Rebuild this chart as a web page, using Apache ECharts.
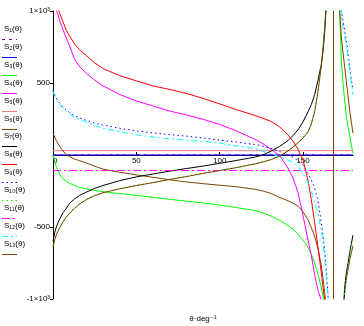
<!DOCTYPE html>
<html><head><meta charset="utf-8">
<script src="https://cdn.jsdelivr.net/npm/echarts@6/dist/echarts.min.js"></script>
<style>html,body{margin:0;padding:0;background:#fff}#c{width:364px;height:326px}</style>
</head><body><div id="c"></div>
<script>
// shared theta grid (degrees); '-' marks the break at the pole
const theta = [0,1,2,3,4,6,8,10,13,16,20,25,30,40,50,60,70,80,90,100,110,121,126,131,136,141,144,147,150,153,155,157,159,161,162,163,164,165,166,167,168,171,172,173,174,175,176,177,178,179,180];
const thetaFlat = [0, 180];

const S1 = [0, 0];
const S2 = [0, 0];
const S3 = [0,-45,-80,-110,-135,-165,-182,-197,-212,-225,-235,-246,-255,-268,-280,-294,-308,-320,-333,-348,-365,-385,-402,-425,-455,-490,-515,-550,-590,-640,-690,-750,-830,-920,-980,-1050,-1150,-1300,-1500,-2000,'-',1500,1000,660,498,380,266,195,135,70,10];
const S4 = [1080,1045,1005,975,930,870,812,755,665,612,567,520,480,420,375,340,305,278,248,212,168,110,78,38,-5,-90,-160,-260,-420,-590,-700,-830,-940,-1010,-1080,-1200,-1400,-1700,-2000,-2500,'-','-','-','-','-','-','-','-','-','-','-'];
const S5 = [30, 30];
const S6 = [151,125,100,80,60,28,2,-12,-28,-40,-55,-78,-98,-120,-138,-155,-172,-187,-199,-210,-220,-238,-250,-268,-295,-318,-335,-355,-395,-450,-505,-565,-650,-770,-860,-950,-1080,-1250,-1500,-2000,'-',-2500,-2000,-1500,-1150,-960,-860,-799,-730,-680,-632];
const S7 = [-600,-540,-500,-470,-445,-400,-370,-335,-305,-280,-258,-232,-212,-178,-152,-132,-112,-94,-77,-58,-38,-15,0,28,60,100,135,175,230,300,350,420,520,630,720,850,1050,1300,1600,2000,'-',-2500,-2000,-1500,-1120,-920,-820,-752,-680,-615,-556];
const S8 = [1200,1120,1060,1020,985,925,865,825,770,730,690,640,600,551,515,480,455,428,393,355,315,275,255,232,195,140,95,40,-35,-175,-310,-470,-640,-820,-920,-1000,-1100,-1250,-1500,-2000,'-','-','-','-','-','-','-','-','-','-','-'];
const S9 = [451,420,395,375,360,335,312,295,272,257,240,222,208,185,168,153,142,131,118,103,90,73,62,45,25,0,-15,-40,-70,-130,-175,-230,-320,-470,-560,-660,-800,-980,-1200,-1600,'-',1600,1200,1000,930,865,799,705,613,520,450];
const S10 = [-630,-585,-550,-525,-500,-462,-428,-400,-366,-337,-307,-280,-260,-233,-210,-190,-168,-148,-126,-106,-86,-60,-46,-30,-6,30,57,88,122,165,222,310,455,640,760,900,1080,1300,1650,2150,'-',-2500,-2000,-1500,-1130,-940,-840,-775,-705,-648,-594];
const S11 = [-108, -108];
const S12 = [440,410,385,365,350,325,303,285,262,245,228,206,185,160,140,125,113,102,94,82,64,45,25,8,-12,-35,-50,-80,-130,-190,-250,-330,-410,-520,-610,-710,-850,-980,-1200,-1600,'-',1600,1150,960,890,830,760,670,590,500,420];
const S13 = [-640,-590,-555,-530,-505,-465,-430,-405,-370,-340,-310,-282,-262,-235,-212,-192,-170,-150,-128,-108,-88,-62,-48,-32,-8,28,55,85,118,160,215,300,440,620,740,880,1060,1280,1600,2100,'-',1600,1000,820,710,613,510,410,312,230,151];

const seriesNames = ['S₁(θ)','S₂(θ)','S₃(θ)','S₄(θ)','S₅(θ)','S₆(θ)','S₇(θ)','S₈(θ)','S₉(θ)','S₁₀(θ)','S₁₁(θ)','S₁₂(θ)','S₁₃(θ)'];
const xTickValues = [0, 50, 100, 150];
const yTickValues = [-1000, -500, 500, 1000];
const yTickLabels = ['-1×10³', '-500', '500', '1×10³'];
const xAxisTitle = 'θ·deg⁻¹';
const poleTheta = [168];

const FONT = '"Liberation Sans", "DejaVu Sans", Arial, sans-serif';
const GRID_TOP = 11, GRID_BOTTOM = 27, CHART_H = 326;
// the horizontal axis sits on the y = 0 line, halfway up the plot box
const xAxisOffset = -(CHART_H - GRID_TOP - GRID_BOTTOM) / 2;

const defs = [
  {x: thetaFlat, y: S1, color: '#800080', dash: [3, 4]},
  {x: thetaFlat, y: S2, color: '#0000ff', dash: 'solid'},
  {x: theta, y: S3, color: '#00ff00', dash: 'solid'},
  {x: theta, y: S4, color: '#ff00ff', dash: 'solid'},
  {x: thetaFlat, y: S5, color: '#ff8080', dash: 'solid'},
  {x: theta, y: S6, color: '#804000', dash: 'solid'},
  {x: theta, y: S7, color: '#000000', dash: 'solid'},
  {x: theta, y: S8, color: '#ff0000', dash: 'solid'},
  {x: theta, y: S9, color: '#0000ff', dash: [1.5, 3]},
  {x: theta, y: S10, color: '#00ff00', dash: [1.5, 3]},
  {x: thetaFlat, y: S11, color: '#ff00ff', dash: [8, 3, 2, 3]},
  {x: theta, y: S12, color: '#00ffff', dash: [6, 3, 2, 3]},
  {x: theta, y: S13, color: '#804000', dash: 'solid'}
];

const series = defs.map((d, i) => {
  const s = {
    name: seriesNames[i],
    type: 'line',
    data: d.x.map((t, k) => [t, d.y[k]]),
    showSymbol: false,
    symbol: 'none',
    connectNulls: false,
    clip: true,
    animation: false,
    silent: true,
    lineStyle: {color: d.color, width: 1, type: d.dash}
  };
  if (i === defs.length - 1) {
    s.markLine = {
      silent: true, symbol: 'none', animation: false,
      label: {show: false},
      lineStyle: {color: d.color, width: 1, type: 'solid'},
      data: poleTheta.map(v => ({xAxis: v}))
    };
  }
  return s;
});

const graphic = [];
defs.forEach((d, i) => {
  const yc = Math.round(29 + 17.9 * i);
  graphic.push({
    type: 'text', x: 4, y: yc, silent: true,
    style: {text: seriesNames[i], font: '8px ' + FONT, fill: '#000', verticalAlign: 'middle', align: 'left'}
  });
  const ly = Math.round(yc + 9.5) + 0.5;
  graphic.push({
    type: 'line', silent: true,
    shape: {x1: 2, y1: ly, x2: 17, y2: ly},
    style: {stroke: d.color, lineWidth: 1, lineDash: Array.isArray(d.dash) ? d.dash : null}
  });
});

const chart = echarts.init(document.getElementById('c'), null, {renderer: 'canvas'});
chart.setOption({
  animation: false,
  backgroundColor: '#fff',
  grid: {left: 53, right: 11, top: GRID_TOP, bottom: GRID_BOTTOM, containLabel: false, outerBoundsMode: 'none'},
  xAxis: {
    type: 'value', min: 0, max: 180, interval: 50,
    position: 'bottom', offset: xAxisOffset,
    axisLine: {show: true, onZero: false, lineStyle: {color: '#000', width: 1}},
    axisTick: {show: true, inside: true, length: 3, customValues: [50, 100, 150], lineStyle: {color: '#000'}},
    axisLabel: {show: true, customValues: xTickValues, margin: 2, fontSize: 8, fontFamily: FONT, color: '#000', alignMinLabel: 'left', formatter: v => String(v)},
    splitLine: {show: false},
    name: xAxisTitle, nameLocation: 'middle', nameGap: 160,
    nameTextStyle: {fontSize: 8, fontFamily: FONT, color: '#000'}
  },
  yAxis: {
    type: 'value', min: -1000, max: 1000, interval: 500,
    axisLine: {show: true, onZero: false, lineStyle: {color: '#000', width: 1}},
    axisTick: {show: true, inside: false, length: 3, customValues: yTickValues, lineStyle: {color: '#000'}},
    axisLabel: {show: true, customValues: yTickValues, margin: 3, fontSize: 8, fontFamily: FONT, color: '#000',
      formatter: v => { const k = yTickValues.indexOf(v); return k >= 0 ? yTickLabels[k] : ''; }},
    splitLine: {show: false}
  },
  graphic: graphic,
  series: series
});
</script>
</body></html>
